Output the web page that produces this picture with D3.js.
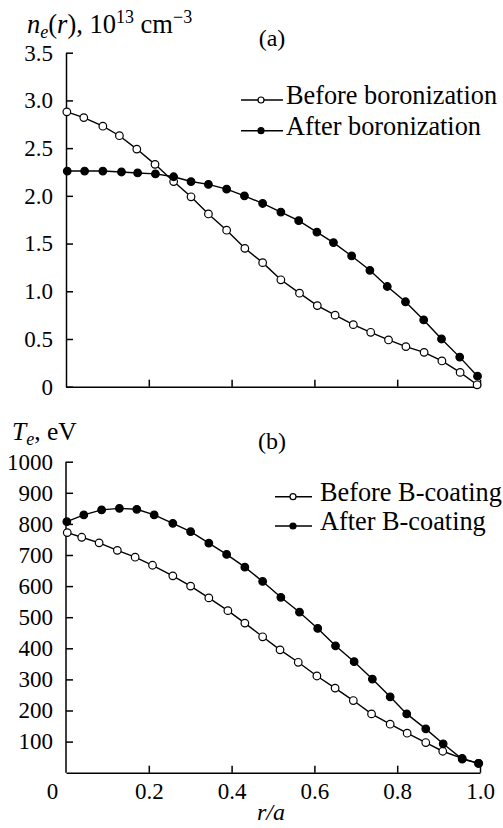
<!DOCTYPE html>
<html><head><meta charset="utf-8">
<script src="https://cdn.jsdelivr.net/npm/d3@7"></script>
<style>
html,body{margin:0;padding:0;background:#fff;}
svg text{font-family:"Liberation Serif","Tinos","Times New Roman",serif;fill:#000;}
</style></head>
<body>
<svg id="chart" width="503" height="828"></svg>
<script>
// ---- data ----
const rNeBefore = [0.002,0.043,0.089,0.129,0.171,0.215,0.260,0.302,0.344,0.388,0.432,0.475,0.519,0.564,0.607,0.650,0.694,0.736,0.779,0.821,0.865,0.908,0.952,0.993];
const neBefore  = [2.88,2.82,2.73,2.63,2.49,2.33,2.15,1.99,1.81,1.64,1.45,1.30,1.12,0.98,0.85,0.75,0.65,0.57,0.49,0.42,0.36,0.27,0.15,0.02];
const rNeAfter  = [0.003,0.045,0.089,0.134,0.173,0.216,0.260,0.302,0.344,0.388,0.431,0.475,0.519,0.562,0.606,0.646,0.690,0.734,0.776,0.820,0.864,0.907,0.951,0.994];
const neAfter   = [2.26,2.26,2.26,2.25,2.24,2.23,2.20,2.15,2.12,2.07,2.00,1.92,1.83,1.74,1.62,1.51,1.37,1.22,1.05,0.89,0.70,0.50,0.31,0.11];

const rTeBefore = [0.003,0.038,0.080,0.124,0.167,0.209,0.258,0.301,0.345,0.391,0.432,0.475,0.517,0.561,0.606,0.650,0.694,0.738,0.783,0.824,0.869,0.910,0.957,0.996];
const teBefore  = [772,757,739,715,693,667,633,600,562,521,481,437,395,355,311,272,232,189,156,127,97,69,46,30];
const rTeAfter  = [0.002,0.043,0.086,0.129,0.171,0.213,0.258,0.301,0.345,0.388,0.432,0.475,0.519,0.564,0.608,0.651,0.696,0.740,0.783,0.823,0.869,0.911,0.957,0.997];
const teAfter   = [807,829,845,850,847,829,802,775,738,702,661,615,564,516,464,408,357,301,244,189,141,93,44,30];

const neTicks = [0,0.5,1.0,1.5,2.0,2.5,3.0,3.5];
const teTicks = [100,200,300,400,500,600,700,800,900,1000];
const xTicks  = [0,0.2,0.4,0.6,0.8,1.0];

const legendA = ["Before boronization","After boronization"];
const legendB = ["Before B-coating","After B-coating"];

// ---- layout ----
const svg = d3.select("#chart");
const x = d3.scaleLinear().domain([0,1]).range([66,480]);
const yA = d3.scaleLinear().domain([0,3.5]).range([386.7,52.7]);
const yB = d3.scaleLinear().domain([0,1000]).range([772.7,461.7]);
const TICKFS = 23;
const LEGFS = 26.3;

function styleAxis(g){
  g.attr("font-family",null);
  g.selectAll("path,line").attr("stroke","#000").attr("stroke-width",1.5);
  g.selectAll("text").attr("font-size",TICKFS);
}

// Panel A axes
const gAy = svg.append("g").attr("transform",`translate(${x(0)},0)`)
  .call(d3.axisLeft(yA).tickValues(neTicks).tickSizeInner(-7).tickSizeOuter(0).tickPadding(13)
    .tickFormat(d=> d===0 ? "0" : d3.format(".1f")(d)));
styleAxis(gAy);
const gAx = svg.append("g").attr("transform",`translate(0,${yA(0)})`)
  .call(d3.axisBottom(x).tickValues(xTicks.slice(1)).tickSizeInner(-7).tickSizeOuter(0).tickFormat(""));
styleAxis(gAx);

// Panel B axes
const gBy = svg.append("g").attr("transform",`translate(${x(0)},0)`)
  .call(d3.axisLeft(yB).tickValues(teTicks).tickSizeInner(-7).tickSizeOuter(0).tickPadding(13)
    .tickFormat(d3.format("d")));
gBy.select(".domain").attr("d",`M0,${yB(0)}V${yB(1000)}`);
styleAxis(gBy);
const gBx = svg.append("g").attr("transform",`translate(0,${yB(0)})`)
  .call(d3.axisBottom(x).tickValues(xTicks).tickSizeInner(-7).tickSizeOuter(0).tickPadding(10)
    .tickFormat(d=> d===0 ? "0" : d3.format(".1f")(d)));
styleAxis(gBx);
gBx.selectAll(".tick").filter(d=>d===0).select("text").attr("x",-14);
gBx.selectAll(".tick").filter(d=>d===0).select("line").remove();

// series drawing
function drawSeries(rs, vs, y, filled){
  const pts = rs.map((r,i)=>[r,vs[i]]);
  const line = d3.line().x(d=>x(d[0])).y(d=>y(d[1]));
  svg.append("path").datum(pts).attr("d",line).attr("fill","none")
    .attr("stroke","#000").attr("stroke-width",1.4);
  svg.append("g").selectAll("circle").data(pts).join("circle")
    .attr("cx",d=>x(d[0])).attr("cy",d=>y(d[1])).attr("r",3.8)
    .attr("fill",filled?"#000":"#fff").attr("stroke","#000").attr("stroke-width",1.2);
}
drawSeries(rNeBefore, neBefore, yA, false);
drawSeries(rNeAfter, neAfter, yA, true);
drawSeries(rTeBefore, teBefore, yB, false);
drawSeries(rTeAfter, teAfter, yB, true);

// legends
function legend(labels, x0, x1, cx, tx, ys, dyText){
  labels.forEach((lab,i)=>{
    const yy = ys[i];
    svg.append("line").attr("x1",x0).attr("x2",x1).attr("y1",yy).attr("y2",yy)
      .attr("stroke","#000").attr("stroke-width",1.5);
    svg.append("circle").attr("cx",cx).attr("cy",yy).attr("r",3)
      .attr("fill", i===0 ? "#fff" : "#000").attr("stroke","#000").attr("stroke-width",1.2);
    svg.append("text").attr("x",tx).attr("y",yy+dyText).attr("font-size",LEGFS).text(lab);
  });
}
legend(legendA, 241, 283, 261, 286, [100,130.7], 4);
legend(legendB, 275, 312, 293, 320, [496.7,526], 4);

// panel labels
svg.append("text").attr("x",272).attr("y",46).attr("text-anchor","middle").attr("font-size",24).text("(a)");
svg.append("text").attr("x",272).attr("y",449).attr("text-anchor","middle").attr("font-size",24).text("(b)");

// y titles
const tA = svg.append("text").attr("x",27).attr("y",33).attr("font-size",26.5);
tA.append("tspan").attr("font-style","italic").text("n");
tA.append("tspan").attr("font-style","italic").attr("font-size",18).attr("dy",5).text("e");
tA.append("tspan").attr("dy",-5).text("(");
tA.append("tspan").attr("font-style","italic").text("r");
tA.append("tspan").text("), 10");
tA.append("tspan").attr("font-size",18).attr("dy",-10).text("13");
tA.append("tspan").attr("dy",10).text(" cm");
tA.append("tspan").attr("font-size",18).attr("dy",-10).text("−3");

const tB = svg.append("text").attr("x",12).attr("y",440).attr("font-size",25.5);
tB.append("tspan").attr("font-style","italic").text("T");
tB.append("tspan").attr("font-style","italic").attr("font-size",18).attr("dy",5).text("e");
tB.append("tspan").attr("dy",-5).text(", eV");

// x title
svg.append("text").attr("x",271).attr("y",820).attr("text-anchor","middle")
  .attr("font-size",24).attr("font-style","italic").text("r/a");
</script>
</body></html>
